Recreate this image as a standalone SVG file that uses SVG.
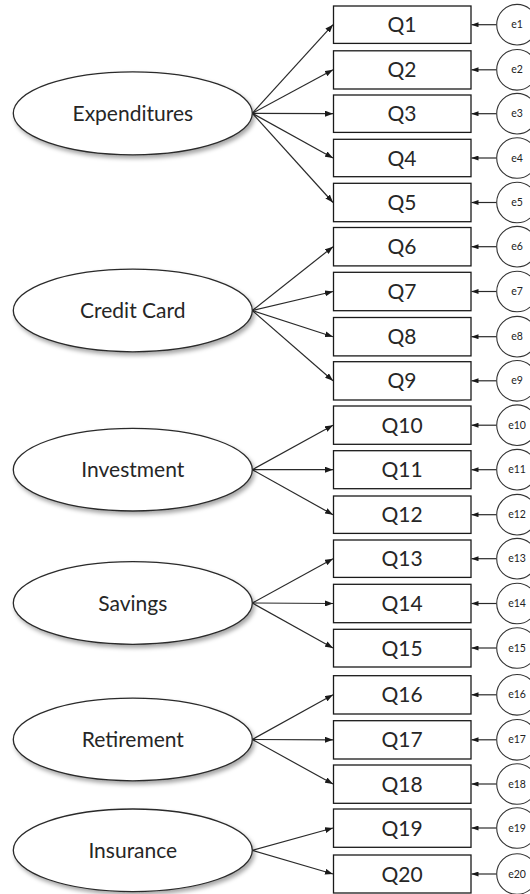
<svg xmlns="http://www.w3.org/2000/svg" width="530" height="894" viewBox="0 0 530 894">
<defs>
<style>
.lat ellipse{fill:#fff;stroke:#2a2a2a;stroke-width:1.3;filter:url(#sh)}
.lat text{font-family:Lato,"Liberation Sans",sans-serif;font-size:21px;fill:#262626;text-anchor:middle}
.obs rect{fill:#fff;stroke:#1a1a1a;stroke-width:1.3}
.obs text{font-family:Lato,"Liberation Sans",sans-serif;font-size:21px;fill:#262626;text-anchor:middle}
.err circle{fill:#fff;stroke:#333;stroke-width:1.1}
.err text{font-family:Lato,"Liberation Sans",sans-serif;font-size:10.5px;fill:#222;text-anchor:middle}
.load{stroke:#2a2a2a;stroke-width:1.2;fill:none;marker-end:url(#ah)}
.eline{stroke:#2a2a2a;stroke-width:1.2;fill:none;marker-end:url(#ah2)}
</style>
<filter id="sh" x="-10%" y="-20%" width="125%" height="150%">
<feDropShadow dx="2" dy="3" stdDeviation="2" flood-color="#000" flood-opacity="0.35"/>
</filter>
<marker id="ah" viewBox="0 0 8 6" refX="8" refY="3" markerWidth="8" markerHeight="6" markerUnits="userSpaceOnUse" orient="auto">
<path d="M0,0 L8,3 L0,6 z" fill="#1a1a1a"/>
</marker>
<marker id="ah2" viewBox="0 0 7 5" refX="7" refY="2.5" markerWidth="7" markerHeight="5" markerUnits="userSpaceOnUse" orient="auto">
<path d="M0,0 L7,2.5 L0,5 z" fill="#1a1a1a"/>
</marker>
</defs>
<rect width="530" height="894" fill="#fff"/>

<g id="connectors">
<line class="load" x1="252.3" y1="113.3" x2="333" y2="24.7"/>
<line class="load" x1="252.3" y1="113.3" x2="333" y2="69.8"/>
<line class="load" x1="252.3" y1="113.3" x2="333" y2="113.7"/>
<line class="load" x1="252.3" y1="113.3" x2="333" y2="158"/>
<line class="load" x1="252.3" y1="113.3" x2="333" y2="202.5"/>
<line class="load" x1="252.3" y1="310.5" x2="333" y2="246.7"/>
<line class="load" x1="252.3" y1="310.5" x2="333" y2="291.5"/>
<line class="load" x1="252.3" y1="310.5" x2="333" y2="336.7"/>
<line class="load" x1="252.3" y1="310.5" x2="333" y2="380.8"/>
<line class="load" x1="252.3" y1="469.7" x2="333" y2="425.2"/>
<line class="load" x1="252.3" y1="469.7" x2="333" y2="469.7"/>
<line class="load" x1="252.3" y1="469.7" x2="333" y2="514.7"/>
<line class="load" x1="252.3" y1="603" x2="333" y2="558.7"/>
<line class="load" x1="252.3" y1="603" x2="333" y2="603.5"/>
<line class="load" x1="252.3" y1="603" x2="333" y2="648"/>
<line class="load" x1="252.3" y1="739.5" x2="333" y2="694.8"/>
<line class="load" x1="252.3" y1="739.5" x2="333" y2="739.8"/>
<line class="load" x1="252.3" y1="739.5" x2="333" y2="784"/>
<line class="load" x1="252.3" y1="850.3" x2="333" y2="828"/>
<line class="load" x1="252.3" y1="850.3" x2="333" y2="874"/>
<line class="eline" x1="496.5" y1="24.7" x2="471.5" y2="24.7"/>
<line class="eline" x1="496.5" y1="69.8" x2="471.5" y2="69.8"/>
<line class="eline" x1="496.5" y1="113.7" x2="471.5" y2="113.7"/>
<line class="eline" x1="496.5" y1="158" x2="471.5" y2="158"/>
<line class="eline" x1="496.5" y1="202.5" x2="471.5" y2="202.5"/>
<line class="eline" x1="496.5" y1="246.7" x2="471.5" y2="246.7"/>
<line class="eline" x1="496.5" y1="291.5" x2="471.5" y2="291.5"/>
<line class="eline" x1="496.5" y1="336.7" x2="471.5" y2="336.7"/>
<line class="eline" x1="496.5" y1="380.8" x2="471.5" y2="380.8"/>
<line class="eline" x1="496.5" y1="425.2" x2="471.5" y2="425.2"/>
<line class="eline" x1="496.5" y1="469.7" x2="471.5" y2="469.7"/>
<line class="eline" x1="496.5" y1="514.7" x2="471.5" y2="514.7"/>
<line class="eline" x1="496.5" y1="558.7" x2="471.5" y2="558.7"/>
<line class="eline" x1="496.5" y1="603.5" x2="471.5" y2="603.5"/>
<line class="eline" x1="496.5" y1="648" x2="471.5" y2="648"/>
<line class="eline" x1="496.5" y1="694.8" x2="471.5" y2="694.8"/>
<line class="eline" x1="496.5" y1="739.8" x2="471.5" y2="739.8"/>
<line class="eline" x1="496.5" y1="784" x2="471.5" y2="784"/>
<line class="eline" x1="496.5" y1="828" x2="471.5" y2="828"/>
<line class="eline" x1="496.5" y1="874" x2="471.5" y2="874"/>
</g>

<g id="latent-expenditures" class="lat"><ellipse cx="132.8" cy="113.3" rx="119.5" ry="41.5"/><text x="132.8" y="120.8">Expenditures</text></g>
<g id="latent-creditcard" class="lat"><ellipse cx="132.8" cy="310.5" rx="119.5" ry="41.3"/><text x="132.8" y="318">Credit Card</text></g>
<g id="latent-investment" class="lat"><ellipse cx="132.8" cy="469.7" rx="119.5" ry="41.3"/><text x="132.8" y="477.2">Investment</text></g>
<g id="latent-savings" class="lat"><ellipse cx="132.8" cy="603" rx="119.5" ry="41.3"/><text x="132.8" y="610.5">Savings</text></g>
<g id="latent-retirement" class="lat"><ellipse cx="132.8" cy="739.5" rx="119.5" ry="41.3"/><text x="132.8" y="747">Retirement</text></g>
<g id="latent-insurance" class="lat"><ellipse cx="132.8" cy="850.3" rx="119.5" ry="41.3"/><text x="132.8" y="857.8">Insurance</text></g>

<g id="q1" class="obs"><rect x="333.5" y="6" width="137.5" height="37.4"/><text x="402" y="32.2">Q1</text></g>
<g id="q2" class="obs"><rect x="333.5" y="50.8" width="137.5" height="38.2"/><text x="402" y="77.3">Q2</text></g>
<g id="q3" class="obs"><rect x="333.5" y="95" width="137.5" height="37.4"/><text x="402" y="121.2">Q3</text></g>
<g id="q4" class="obs"><rect x="333.5" y="139.3" width="137.5" height="37.4"/><text x="402" y="165.5">Q4</text></g>
<g id="q5" class="obs"><rect x="333.5" y="183.3" width="137.5" height="38.4"/><text x="402" y="210">Q5</text></g>
<g id="q6" class="obs"><rect x="333.5" y="227.5" width="137.5" height="38.4"/><text x="402" y="254.2">Q6</text></g>
<g id="q7" class="obs"><rect x="333.5" y="272.3" width="137.5" height="38.4"/><text x="402" y="299">Q7</text></g>
<g id="q8" class="obs"><rect x="333.5" y="317.5" width="137.5" height="38.4"/><text x="402" y="344.2">Q8</text></g>
<g id="q9" class="obs"><rect x="333.5" y="361.7" width="137.5" height="38.3"/><text x="402" y="388.3">Q9</text></g>
<g id="q10" class="obs"><rect x="333.5" y="406" width="137.5" height="38.3"/><text x="402" y="432.7">Q10</text></g>
<g id="q11" class="obs"><rect x="333.5" y="450.7" width="137.5" height="38"/><text x="402" y="477.2">Q11</text></g>
<g id="q12" class="obs"><rect x="333.5" y="496" width="137.5" height="37.4"/><text x="402" y="522.2">Q12</text></g>
<g id="q13" class="obs"><rect x="333.5" y="540" width="137.5" height="37.4"/><text x="402" y="566.2">Q13</text></g>
<g id="q14" class="obs"><rect x="333.5" y="584.3" width="137.5" height="38.4"/><text x="402" y="611">Q14</text></g>
<g id="q15" class="obs"><rect x="333.5" y="629.3" width="137.5" height="37.7"/><text x="402" y="655.5">Q15</text></g>
<g id="q16" class="obs"><rect x="333.5" y="675.7" width="137.5" height="38.3"/><text x="402" y="702.3">Q16</text></g>
<g id="q17" class="obs"><rect x="333.5" y="720.7" width="137.5" height="38.3"/><text x="402" y="747.3">Q17</text></g>
<g id="q18" class="obs"><rect x="333.5" y="765" width="137.5" height="38.3"/><text x="402" y="791.5">Q18</text></g>
<g id="q19" class="obs"><rect x="333.5" y="809" width="137.5" height="38.3"/><text x="402" y="835.5">Q19</text></g>
<g id="q20" class="obs"><rect x="333.5" y="855" width="137.5" height="38"/><text x="402" y="881.5">Q20</text></g>

<g id="e1" class="err"><circle cx="517" cy="24.7" r="20.3"/><text x="517" y="28.3">e1</text></g>
<g id="e2" class="err"><circle cx="517" cy="69.8" r="20.3"/><text x="517" y="73.4">e2</text></g>
<g id="e3" class="err"><circle cx="517" cy="113.7" r="20.3"/><text x="517" y="117.3">e3</text></g>
<g id="e4" class="err"><circle cx="517" cy="158" r="20.3"/><text x="517" y="161.6">e4</text></g>
<g id="e5" class="err"><circle cx="517" cy="202.5" r="20.3"/><text x="517" y="206.1">e5</text></g>
<g id="e6" class="err"><circle cx="517" cy="246.7" r="20.3"/><text x="517" y="250.3">e6</text></g>
<g id="e7" class="err"><circle cx="517" cy="291.5" r="20.3"/><text x="517" y="295.1">e7</text></g>
<g id="e8" class="err"><circle cx="517" cy="336.7" r="20.3"/><text x="517" y="340.3">e8</text></g>
<g id="e9" class="err"><circle cx="517" cy="380.8" r="20.3"/><text x="517" y="384.4">e9</text></g>
<g id="e10" class="err"><circle cx="517" cy="425.2" r="20.3"/><text x="517" y="428.8">e10</text></g>
<g id="e11" class="err"><circle cx="517" cy="469.7" r="20.3"/><text x="517" y="473.3">e11</text></g>
<g id="e12" class="err"><circle cx="517" cy="514.7" r="20.3"/><text x="517" y="518.3">e12</text></g>
<g id="e13" class="err"><circle cx="517" cy="558.7" r="20.3"/><text x="517" y="562.3">e13</text></g>
<g id="e14" class="err"><circle cx="517" cy="603.5" r="20.3"/><text x="517" y="607.1">e14</text></g>
<g id="e15" class="err"><circle cx="517" cy="648" r="20.3"/><text x="517" y="651.6">e15</text></g>
<g id="e16" class="err"><circle cx="517" cy="694.8" r="20.3"/><text x="517" y="698.4">e16</text></g>
<g id="e17" class="err"><circle cx="517" cy="739.8" r="20.3"/><text x="517" y="743.4">e17</text></g>
<g id="e18" class="err"><circle cx="517" cy="784" r="20.3"/><text x="517" y="787.6">e18</text></g>
<g id="e19" class="err"><circle cx="517" cy="828" r="20.3"/><text x="517" y="831.6">e19</text></g>
<g id="e20" class="err"><circle cx="517" cy="874" r="20.3"/><text x="517" y="877.6">e20</text></g>
</svg>
